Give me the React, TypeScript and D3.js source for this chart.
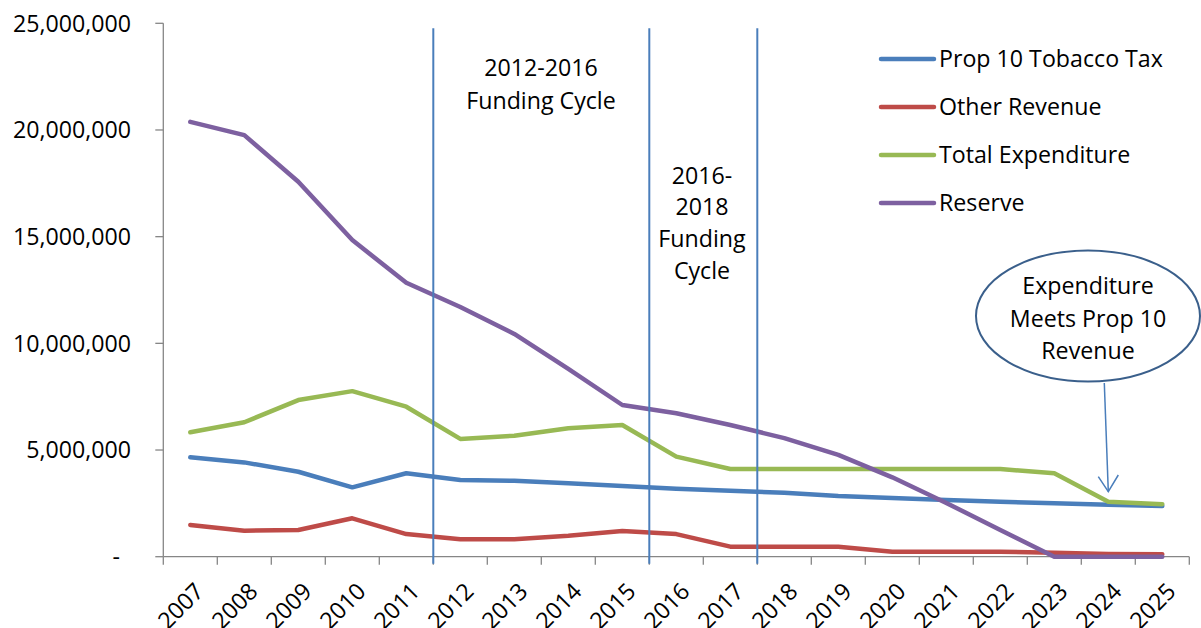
import React from "react";
import * as d3 from "d3";

const years = ["2007","2008","2009","2010","2011","2012","2013","2014","2015","2016","2017","2018","2019","2020","2021","2022","2023","2024","2025"];
const prop10 = [4660000,4420000,3980000,3250000,3910000,3590000,3560000,3440000,3310000,3190000,3090000,3000000,2840000,2750000,2660000,2580000,2500000,2440000,2380000];
const otherRevenue = [1490000,1220000,1250000,1800000,1060000,820000,820000,980000,1200000,1060000,470000,470000,470000,230000,230000,230000,190000,130000,120000];
const totalExpenditure = [5830000,6300000,7340000,7760000,7030000,5520000,5670000,6020000,6170000,4690000,4110000,4110000,4110000,4110000,4110000,4110000,3910000,2580000,2460000];
const reserve = [20380000,19760000,17570000,14840000,12840000,11700000,10440000,8800000,7110000,6720000,6170000,5560000,4770000,3720000,2520000,1250000,0,0,0];
const yTicks = [0,5000000,10000000,15000000,20000000,25000000];
const cycleStarts = ["2012","2016","2018"];

const seriesNames = ["Prop 10 Tobacco Tax","Other Revenue","Total Expenditure","Reserve"];
const seriesColors = ["#4A7EBB","#BE4B48","#98B954","#7D60A0"];
const seriesValues = [prop10, otherRevenue, totalExpenditure, reserve];

const FONT = "'Open Sans', Lato, sans-serif";
const FS = 23.2;

export default function App() {
  const W = 1201, H = 628;
  const left = 163.3, right = 1189.3, top = 23.3, bottom = 556.7;
  const x = d3.scaleBand<string>().domain(years).range([left, right]).padding(0);
  const y = d3.scaleLinear().domain([0, 25000000]).range([bottom, top]);
  const cx = (yr: string) => (x(yr) as number) + x.bandwidth() / 2;
  const line = d3.line<number>().x((_, i) => cx(years[i])).y((v) => y(v));
  const fmt = d3.format(",");
  const boundaries = years.map((yr) => x(yr) as number).concat([right]);

  return (
    <svg width={W} height={H} style={{ position: "absolute", left: 0, top: 0, background: "#fff" }} fontFamily={FONT}>
      <rect width={W} height={H} fill="#fff" />
      {/* axes */}
      <line x1={left} x2={left} y1={top} y2={bottom} stroke="#868686" strokeWidth={1.3} />
      <line x1={left} x2={right} y1={bottom} y2={bottom} stroke="#868686" strokeWidth={1.3} />
      {yTicks.map((t) => (
        <g key={t}>
          <line x1={left - 8} x2={left} y1={y(t)} y2={y(t)} stroke="#868686" strokeWidth={1.3} />
          <text x={t === 0 ? 120 : 131} y={y(t)} dy="0.36em" textAnchor="end" fontSize={FS} fill="#000">
            {t === 0 ? "-" : fmt(t)}
          </text>
        </g>
      ))}
      {boundaries.map((b, i) => (
        <line key={i} x1={b} x2={b} y1={bottom} y2={bottom + 8} stroke="#868686" strokeWidth={1.3} />
      ))}
      {years.map((yr) => (
        <text key={yr} transform={`translate(${cx(yr) + 9},${587}) rotate(-45)`} dy="0.36em" textAnchor="end" fontSize={FS} fill="#000">
          {yr}
        </text>
      ))}
      {/* series */}
      {seriesValues.map((vals, i) => (
        <path key={i} d={line(vals) as string} fill="none" stroke={seriesColors[i]} strokeWidth={4.5} strokeLinejoin="round" strokeLinecap="round" />
      ))}
      {/* legend */}
      {seriesNames.map((n, i) => (
        <g key={n} transform={`translate(0,${59 + i * 48})`}>
          <line x1={881} x2={934} y1={0} y2={0} stroke={seriesColors[i]} strokeWidth={4.5} strokeLinecap="round" />
          <text x={939} y={0} dy="0.36em" fontSize={FS} fill="#000">{n}</text>
        </g>
      ))}
      {/* funding cycle lines */}
      {cycleStarts.map((c) => (
        <line key={c} x1={x(c) as number} x2={x(c) as number} y1={28.3} y2={bottom + 7} stroke="#4A7EBB" strokeWidth={2} />
      ))}
      <text textAnchor="middle" fontSize={FS} fill="#000">
        <tspan x={541} y={76}>2012-2016</tspan>
        <tspan x={541} y={108.5}>Funding Cycle</tspan>
      </text>
      <text textAnchor="middle" fontSize={FS} fill="#000">
        <tspan x={702} y={183.5}>2016-</tspan>
        <tspan x={702} y={215}>2018</tspan>
        <tspan x={702} y={247}>Funding</tspan>
        <tspan x={702} y={278.5}>Cycle</tspan>
      </text>
      {/* annotation */}
      <ellipse cx={1088} cy={316} rx={112} ry={65.5} fill="#fff" stroke="#3A5F8B" strokeWidth={2} />
      <text textAnchor="middle" fontSize={FS} fill="#000">
        <tspan x={1088} y={293.5}>Expenditure</tspan>
        <tspan x={1088} y={326.5}>Meets Prop 10</tspan>
        <tspan x={1088} y={358.5}>Revenue</tspan>
      </text>
      <line x1={1104.3} y1={383} x2={1108.3} y2={491.7} stroke="#4A7EBB" strokeWidth={1.5} />
      <polyline points="1098.3,476.7 1108.3,491.7 1118.3,475" fill="none" stroke="#4A7EBB" strokeWidth={1.5} />
    </svg>
  );
}
